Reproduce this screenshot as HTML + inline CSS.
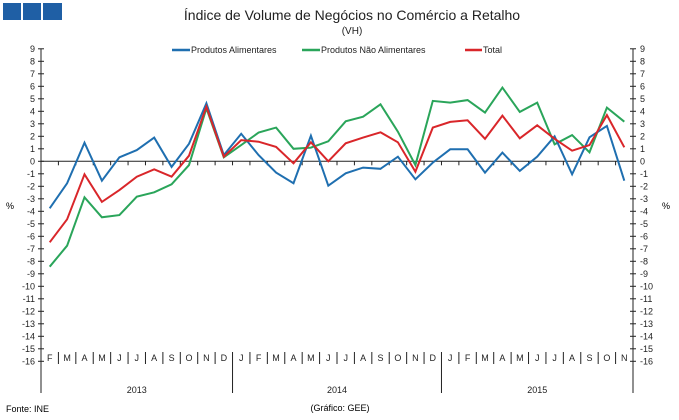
<!DOCTYPE html>
<html><head><meta charset="utf-8"><style>
body{margin:0;background:#fff;}
svg{display:block;font-family:"Liberation Sans",sans-serif;}
</style></head><body>
<svg id="chart" width="679" height="420" viewBox="0 0 679 420">
<rect x="3" y="3" width="18" height="17" fill="#1f5fa5"/>
<rect x="23" y="3" width="18" height="17" fill="#1f5fa5"/>
<rect x="43" y="3" width="19" height="17" fill="#1f5fa5"/>
<text x="352" y="20" text-anchor="middle" font-size="14" fill="#222">Índice de Volume de Negócios no Comércio a Retalho</text>
<text x="352" y="34" text-anchor="middle" font-size="10" fill="#222">(VH)</text>
<g font-size="9" fill="#222">
<line x1="172" y1="50" x2="190" y2="50" stroke="#1f6fb0" stroke-width="2.5"/>
<text x="191" y="53">Produtos Alimentares</text>
<line x1="302" y1="50" x2="320" y2="50" stroke="#2aa55a" stroke-width="2.5"/>
<text x="321" y="53">Produtos Não Alimentares</text>
<line x1="465" y1="50" x2="482" y2="50" stroke="#d9262a" stroke-width="2.5"/>
<text x="483" y="53">Total</text>
</g>
<text x="10" y="209" font-size="9" text-anchor="middle">%</text>
<text x="666" y="209" font-size="9" text-anchor="middle">%</text>
<text x="6" y="412" font-size="9">Fonte: INE</text>
<text x="340" y="411" font-size="9" text-anchor="middle">(Gráfico: GEE)</text>
<g id="axes"></g>
<g id="series"></g>
</svg>
<script>
const months = ["F","M","A","M","J","J","A","S","O","N","D","J","F","M","A","M","J","J","A","S","O","N","D","J","F","M","A","M","J","J","A","S","O","N"];
const years = ["2013","2014","2015"];
const yearStarts = [0, 11, 23];
const yTicks = [9,8,7,6,5,4,3,2,1,0,-1,-2,-3,-4,-5,-6,-7,-8,-9,-10,-11,-12,-13,-14,-15,-16];
const alimentares = [-3.76,-1.76,1.49,-1.55,0.32,0.9,1.9,-0.45,1.4,4.64,0.5,2.2,0.5,-0.9,-1.75,2.05,-1.95,-0.96,-0.5,-0.6,0.37,-1.44,-0.1,0.96,0.96,-0.9,0.7,-0.77,0.37,2.0,-1.04,1.92,2.83,-1.55];
const naoAlimentares = [-8.43,-6.75,-2.88,-4.48,-4.3,-2.83,-2.48,-1.84,-0.3,4.24,0.32,1.3,2.3,2.7,1.0,1.1,1.6,3.2,3.57,4.56,2.37,-0.3,4.83,4.7,4.9,3.9,5.9,3.95,4.7,1.36,2.1,0.72,4.3,3.17];
const total = [-6.48,-4.64,-1.04,-3.25,-2.3,-1.23,-0.64,-1.23,0.45,4.37,0.37,1.7,1.57,1.15,-0.16,1.52,0,1.44,1.9,2.32,1.52,-0.83,2.7,3.15,3.28,1.8,3.65,1.84,2.88,1.8,0.85,1.3,3.7,1.12];

const NS="http://www.w3.org/2000/svg";
const X0=41, X1=633, Y0=161.3, PU=12.5;
const band=(X1-X0)/months.length;
const xc=i=>X0+band*(i+0.5);
const xb=i=>X0+band*i;
const y=v=>Y0-v*PU;
const axes=document.getElementById('axes');
const ser=document.getElementById('series');
function mk(tag,attrs,parent){const e=document.createElementNS(NS,tag);for(const k in attrs)e.setAttribute(k,attrs[k]);parent.appendChild(e);return e;}

// vertical axes
let l=mk('line',{x1:X0,y1:y(9),x2:X0,y2:393,stroke:'#222','stroke-width':1},axes);


l=mk('line',{x1:X1,y1:y(9),x2:X1,y2:393,stroke:'#222','stroke-width':1},axes);


l=mk('line',{x1:X0,y1:Y0,x2:X1,y2:Y0,stroke:'#222','stroke-width':1},axes);


yTicks.forEach(v=>{
  mk('line',{x1:X0-3,y1:y(v),x2:X0+3,y2:y(v),stroke:'#222'},axes);
  mk('line',{x1:X1-3,y1:y(v),x2:X1+3,y2:y(v),stroke:'#222'},axes);
  let t=mk('text',{x:X0-6,y:y(v)+3,'font-size':9,'text-anchor':'end',fill:'#222'},axes);
  t.textContent=v;
  
  
  t=mk('text',{x:X1+7,y:y(v)+3,'font-size':9,fill:'#222'},axes);
  t.textContent=v;
  
  
});
months.forEach((m,i)=>{
  if(i>0){
    mk('line',{x1:xb(i),y1:Y0,x2:xb(i),y2:Y0+4,stroke:'#222'},axes);
    if(!yearStarts.includes(i)) mk('line',{x1:xb(i),y1:352,x2:xb(i),y2:364,stroke:'#222'},axes);
  }
  const t=mk('text',{x:xc(i),y:361,'font-size':9,'text-anchor':'middle',fill:'#222'},axes);
  t.textContent=m;
  
  
});
yearStarts.forEach((s,k)=>{
  if(s>0) mk('line',{x1:xb(s),y1:352,x2:xb(s),y2:393,stroke:'#222'},axes);
  const e=k+1<yearStarts.length?yearStarts[k+1]:months.length;
  const t=mk('text',{x:(xb(s)+xb(e))/2,y:393,'font-size':9,'text-anchor':'middle',fill:'#222'},axes);
  t.textContent=years[k];
  
  
});
function line(data,color,name){
  const p=mk('polyline',{points:data.map((v,i)=>xc(i).toFixed(1)+','+y(v).toFixed(1)).join(' '),fill:'none',stroke:color,'stroke-width':2,'stroke-linejoin':'miter'},ser);
  
  
}
line(naoAlimentares,'#2aa55a','series-nao-alimentares');
line(alimentares,'#1f6fb0','series-alimentares');
line(total,'#d9262a','series-total');
</script>
</body></html>
